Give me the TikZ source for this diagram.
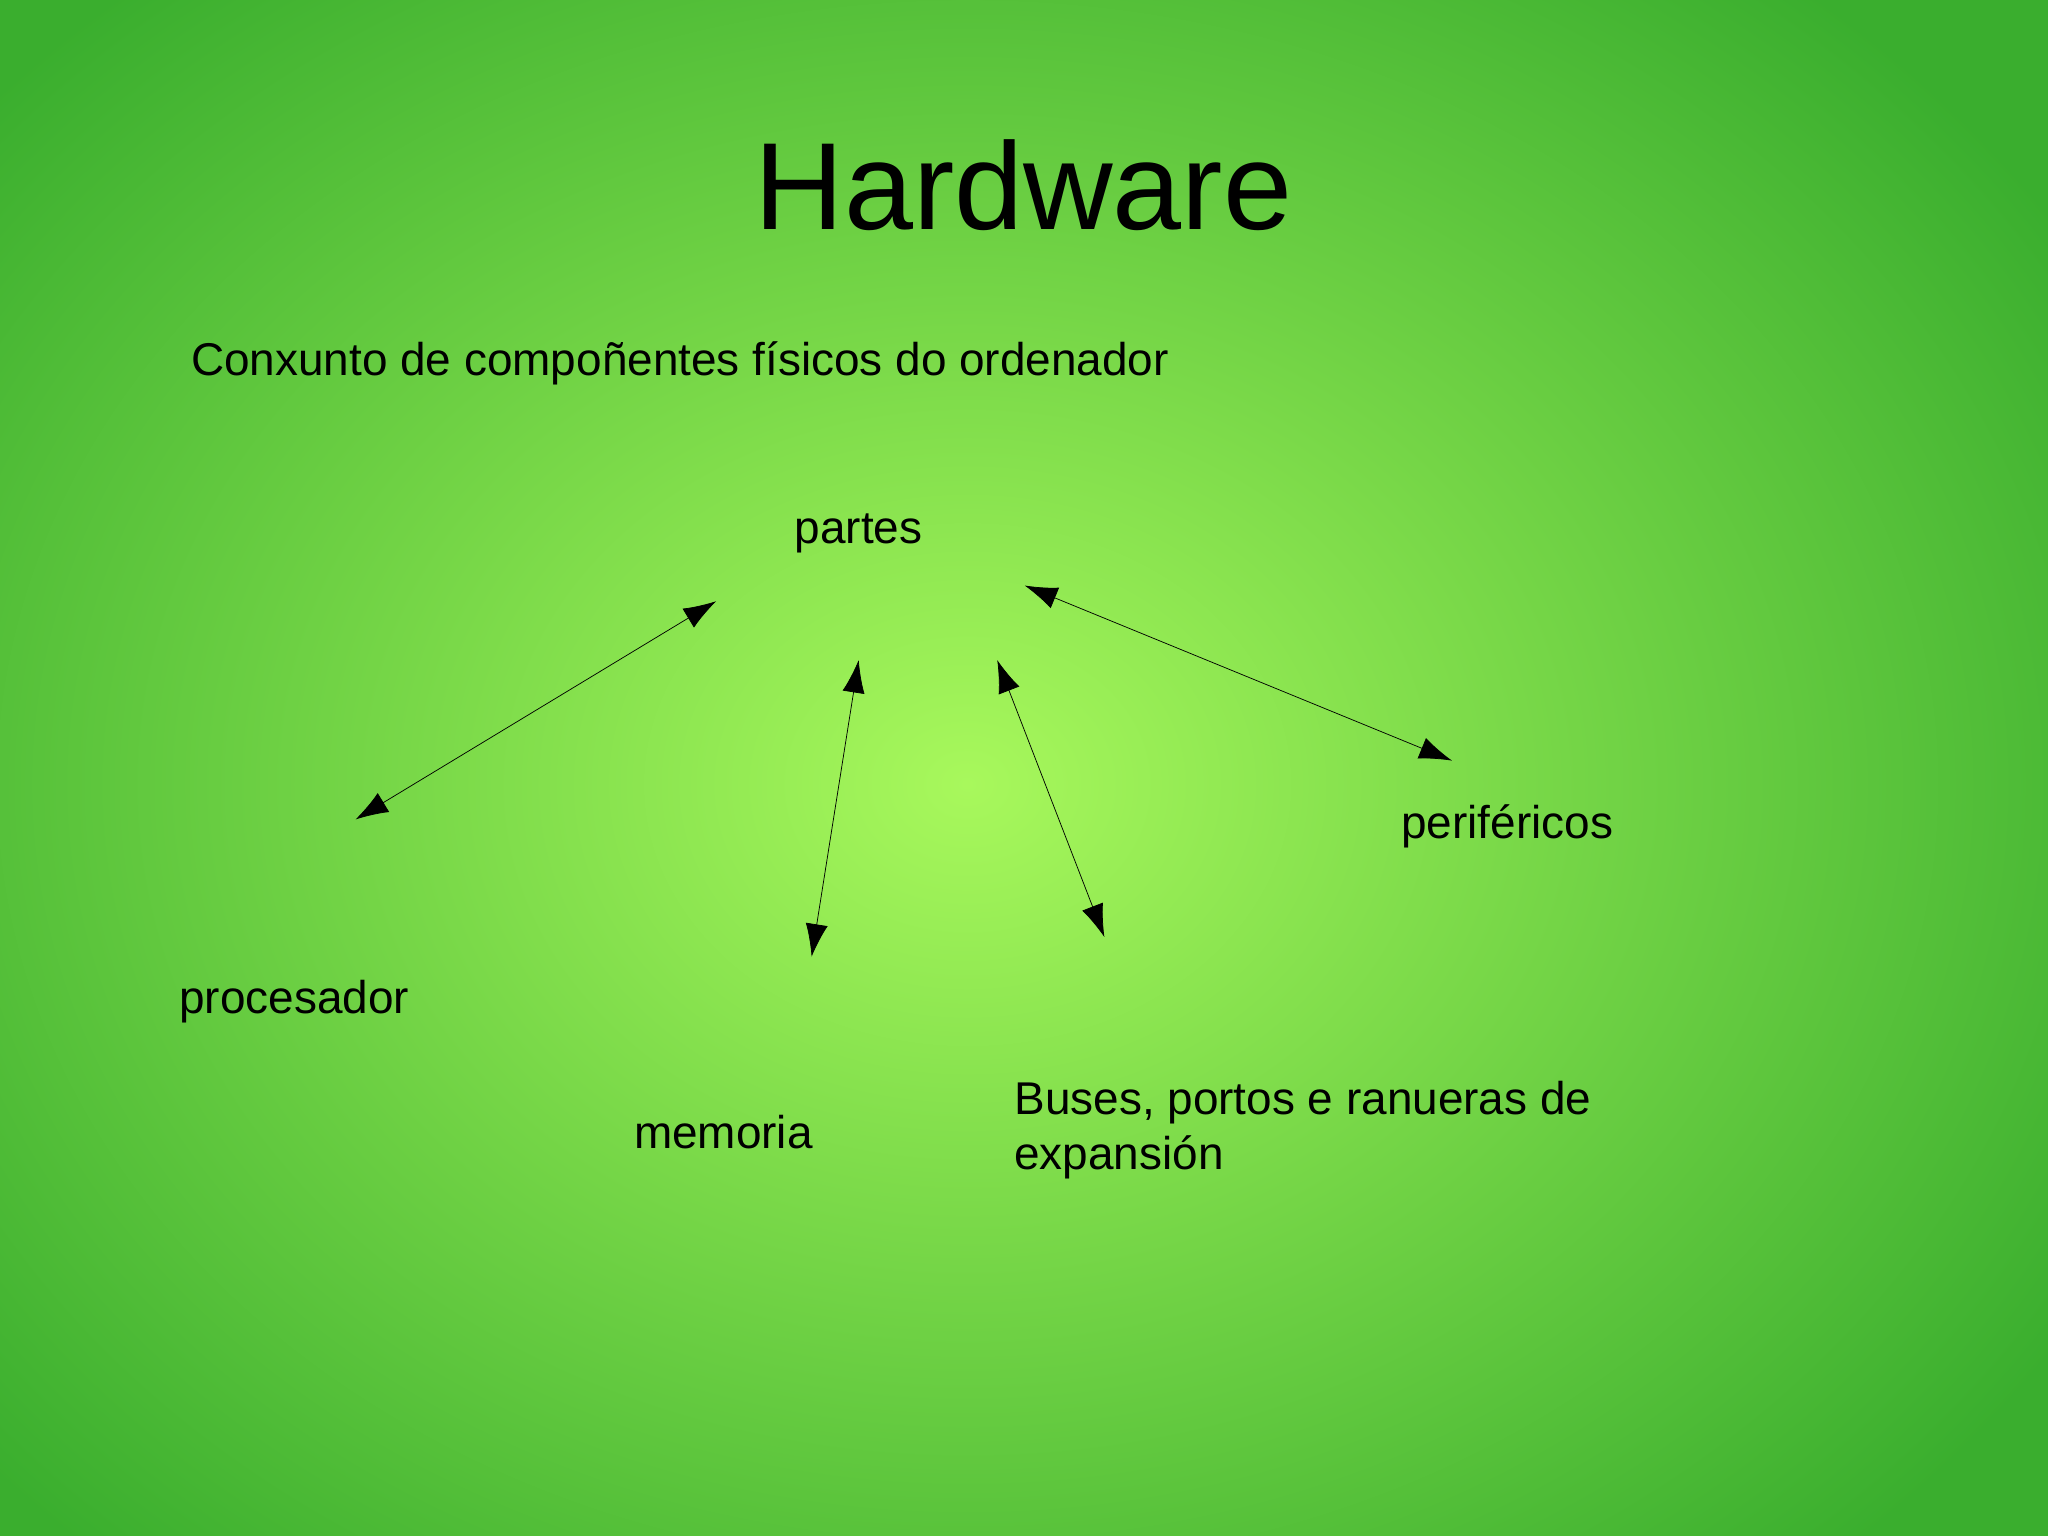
\documentclass[tikz,border=0pt]{standalone}
\usepackage{fontspec}
\setmainfont{Liberation Sans}
\usetikzlibrary{arrows.meta}
\definecolor{bgin}{HTML}{A8F85C}
\definecolor{bgout}{HTML}{3AAE2E}
\tikzset{
  lbl/.style={anchor=west, inner sep=0pt, font=\fontsize{50}{60}\selectfont, align=left},
  conn/.style={line width=0.8pt, {Latex[length=1.25cm,width=0.85cm]}-{Latex[length=1.25cm,width=0.85cm]}}
}
\begin{document}
\begin{tikzpicture}[x=0.05cm,y=-0.05cm]
\useasboundingbox (0,0) rectangle (1567,1175);
\shade[inner color=bgin, outer color=bgout] (-250,-200) rectangle (1730,1400);
\node[inner sep=0pt, font=\fontsize{135}{150}\selectfont] (title) at (783,142) {Hardware};
\node[lbl] (def) at (146,278) {Conxunto de compoñentes físicos do ordenador};
\node[lbl] (partes) at (608,408) {partes};
\node[lbl] (proc) at (137,766) {procesador};
\node[lbl] (mem) at (485,866) {memoria};
\node[lbl] (bus) at (776,865) {Buses, portos e ranueras de\\expansión};
\node[lbl] (per) at (1072,632) {periféricos};
\coordinate (a1) at (548,460); \coordinate (b1) at (272,627);
\coordinate (a2) at (657,505); \coordinate (b2) at (621,732);
\coordinate (a3) at (763,505); \coordinate (b3) at (845,717);
\coordinate (a4) at (784,448); \coordinate (b4) at (1111,582);
\draw[conn] (a1) -- (b1);
\draw[conn] (a2) -- (b2);
\draw[conn] (a3) -- (b3);
\draw[conn] (a4) -- (b4);
\end{tikzpicture}
\end{document}
